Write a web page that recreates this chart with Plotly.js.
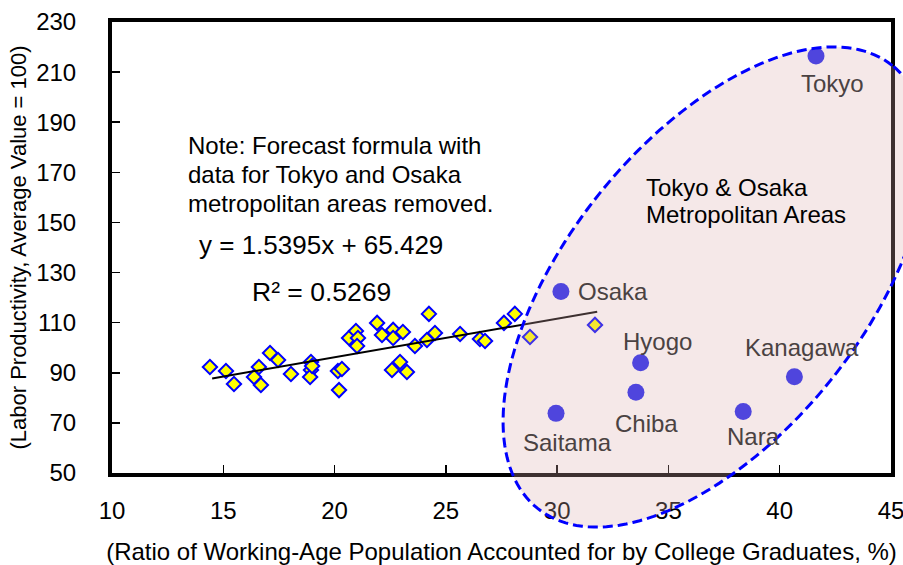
<!DOCTYPE html>
<html><head><meta charset="utf-8">
<script src="https://cdn.plot.ly/plotly-3.0.1.min.js"></script>
<style>html,body{margin:0;padding:0;background:#fff}</style>
</head><body>
<div id="chart" style="width:903px;height:565px"></div>
<script>
// Prefectures outside the Tokyo & Osaka metropolitan areas (diamonds)
const otherX = [14.40,15.12,15.48,16.60,17.10,17.46,16.38,16.69,18.04,18.94,18.94,18.90,18.99,20.15,20.33,20.20,20.65,20.96,21.05,21.01,21.91,22.13,22.63,22.63,23.07,22.58,22.94,23.25,23.61,24.15,24.24,24.51,25.64,26.53,26.76,27.61,28.10,28.78,31.70];
const otherY = [92.3,90.7,85.5,92.3,97.9,95.1,88.3,85.1,89.5,94.3,91.1,88.3,92.7,90.7,91.5,83.1,103.9,106.7,103.9,100.7,109.9,105.1,107.1,103.9,106.3,91.1,94.3,90.3,100.7,103.1,113.5,105.9,105.5,103.5,102.7,109.9,113.5,104.3,109.1];
// Tokyo & Osaka metropolitan-area prefectures (circles)
const metroNames = ['Tokyo','Osaka','Hyogo','Chiba','Saitama','Nara','Kanagawa'];
const metroX = [41.63,30.17,33.75,33.54,29.95,38.36,40.66];
const metroY = [216.4,122.4,94.0,82.2,73.8,74.5,88.4];
// Forecast formula (trend line)
const fitSlope = 1.5395, fitIntercept = 65.429;
const fitX = [14.5, 31.8];
const fitY = fitX.map(x => fitSlope * x + fitIntercept);
// Tick values
const xTicks = [10,15,20,25,30,35,40,45];
const yTicks = [50,70,90,110,130,150,170,190,210,230];
// Text
const noteLines = ['Note: Forecast formula with', 'data for Tokyo and Osaka', 'metropolitan areas removed.'];
const areaLines = ['Tokyo &amp; Osaka', 'Metropolitan Areas'];

const W = 903, H = 565, L = 112, R = 12, T = 22, B = 92;
const pw = W - L - R, ph = H - T - B;
const px2p = px => (px - L) / pw;
const py2p = py => (H - B - py) / ph;

// rotated ellipse (in pixels) -> paper path
const ecx = 715, ecy = 287, ea = 283.7, eb = 148.6, ephi = 51.3 * Math.PI / 180;
let path = '';
for (let i = 0; i <= 180; i++) {
  const t = 2 * Math.PI * i / 180;
  const px = ecx + ea * Math.cos(t) * Math.cos(ephi) - eb * Math.sin(t) * Math.sin(ephi);
  const py = ecy - (ea * Math.cos(t) * Math.sin(ephi) + eb * Math.sin(t) * Math.cos(ephi));
  path += (i === 0 ? 'M' : 'L') + px2p(px).toFixed(5) + ',' + py2p(py).toFixed(5);
}
path += 'Z';

const FONT = 'Arial, "Liberation Sans", sans-serif';
const labelShift = {
  Tokyo: [17, -27], Osaka: [52, 0], Hyogo: [17, 21], Chiba: [11, -31],
  Saitama: [11, -29], Nara: [10, -25], Kanagawa: [8, 29]
};

const traces = [
  {x: otherX, y: otherY, type: 'scatter', mode: 'markers', cliponaxis: false,
   marker: {symbol: 'diamond', size: 11, color: '#ffff00', line: {color: '#0000ff', width: 2}},
   hoverinfo: 'skip'},
  {x: metroX, y: metroY, type: 'scatter', mode: 'markers', text: metroNames,
   marker: {symbol: 'circle', size: 17, color: 'rgb(25,30,240)'}},
  {x: fitX, y: fitY, type: 'scatter', mode: 'lines', line: {color: '#000', width: 2}}
];

const annotations = metroNames.map((n, i) => ({
  x: metroX[i], y: metroY[i], xref: 'x', yref: 'y', text: n, showarrow: false,
  xshift: labelShift[n][0], yshift: labelShift[n][1],
  font: {family: FONT, size: 24, color: '#4a4242'}
}));
const noteY = [145, 174, 203];
noteLines.forEach((s, i) => annotations.push(
  {xref: 'paper', yref: 'paper', x: px2p(186), y: py2p(noteY[i]), xanchor: 'left', yanchor: 'middle',
   text: s, showarrow: false, font: {family: FONT, size: 24, color: '#000'}}));
const areaY = [187, 214];
areaLines.forEach((s, i) => annotations.push(
  {xref: 'paper', yref: 'paper', x: px2p(644), y: py2p(areaY[i]), xanchor: 'left', yanchor: 'middle',
   text: s, showarrow: false, font: {family: FONT, size: 24, color: '#000'}}));
annotations.push(
  {xref: 'paper', yref: 'paper', x: px2p(321), y: py2p(245), xanchor: 'center', yanchor: 'middle',
   text: 'y = 1.5395x + 65.429', showarrow: false, font: {family: FONT, size: 26, color: '#000'}},
  {xref: 'paper', yref: 'paper', x: px2p(321), y: py2p(292), xanchor: 'center', yanchor: 'middle',
   text: 'R² = 0.5269', showarrow: false, font: {family: FONT, size: 26.5, color: '#000'}}
);

const layout = {
  width: W, height: H, margin: {l: L, r: R, t: T, b: B, pad: 0},
  paper_bgcolor: '#fff', plot_bgcolor: '#fff', showlegend: false,
  font: {family: FONT, color: '#000'},
  xaxis: {range: [10, 45], tickvals: xTicks, ticks: 'inside', ticklen: 8, tickwidth: 1.5, tickcolor: '#000',
    showline: true, mirror: true, linecolor: '#000', linewidth: 4, showgrid: false, zeroline: false,
    tickfont: {family: FONT, size: 24, color: '#000'}, ticklabelstandoff: 13, ticklabeloverflow: 'allow',
    title: {text: '(Ratio of Working-Age Population Accounted for by College Graduates, %)',
      font: {family: FONT, size: 24, color: '#000'}, standoff: 22}},
  yaxis: {range: [50, 230], tickvals: yTicks, ticks: 'inside', ticklen: 8, tickwidth: 1.5, tickcolor: '#000',
    showline: true, mirror: true, linecolor: '#000', linewidth: 4, showgrid: false, zeroline: false,
    tickfont: {family: FONT, size: 24, color: '#000'}, ticklabelstandoff: 27, ticklabeloverflow: 'allow',
    title: {text: '(Labor Productivity, Average Value = 100)',
      font: {family: FONT, size: 22, color: '#000'}, standoff: 4}},
  shapes: [{type: 'path', xref: 'paper', yref: 'paper', path: path, layer: 'above',
    fillcolor: 'rgba(219,173,173,0.28)', line: {color: '#0000ff', width: 3, dash: '10px,5px'}}],
  annotations: annotations
};

Plotly.newPlot('chart', traces, layout, {displayModeBar: false, staticPlot: true});
</script>
</body></html>
